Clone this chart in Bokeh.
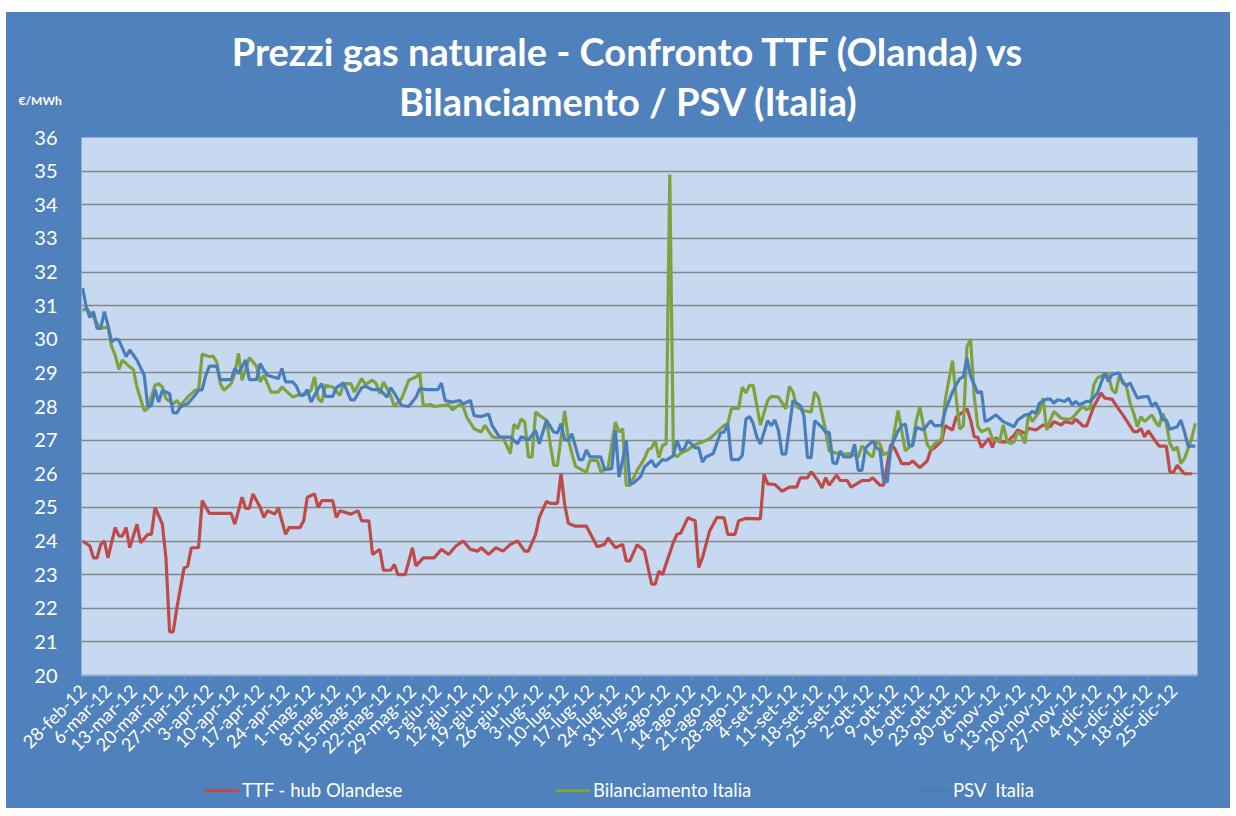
from math import pi
from bokeh.plotting import figure
from bokeh.models import Legend, LegendItem, FixedTicker, Range1d, Label, Spacer, ColumnDataSource
from bokeh.layouts import column, row
from bokeh.embed import file_html
from bokeh.resources import INLINE

# x = days since 28-feb-12
tick_days = list(range(0, 302, 7))
tick_labels = ["28-feb-12", "6-mar-12", "13-mar-12", "20-mar-12", "27-mar-12", "3-apr-12",
               "10-apr-12", "17-apr-12", "24-apr-12", "1-mag-12", "8-mag-12", "15-mag-12",
               "22-mag-12", "29-mag-12", "5-giu-12", "12-giu-12", "19-giu-12", "26-giu-12",
               "3-lug-12", "10-lug-12", "17-lug-12", "24-lug-12", "31-lug-12", "7-ago-12",
               "14-ago-12", "21-ago-12", "28-ago-12", "4-set-12", "11-set-12", "18-set-12",
               "25-set-12", "2-ott-12", "9-ott-12", "16-ott-12", "23-ott-12", "30-ott-12",
               "6-nov-12", "13-nov-12", "20-nov-12", "27-nov-12", "4-dic-12", "11-dic-12",
               "18-dic-12", "25-dic-12"]

ttf_days = [0, 2, 3, 4, 5, 6, 7, 9, 10, 11, 12, 13, 15, 16, 18, 19, 20, 22, 23, 24, 25, 26, 28, 29,
            30, 32, 33, 35, 41, 42, 44, 45, 46, 47, 49, 50, 51, 53, 54, 56, 57, 60, 61, 62, 64, 65,
            66, 69, 70, 71, 74, 76, 77, 79, 80, 82, 83, 85, 86, 87, 89, 91, 92, 94, 97, 99, 101,
            103, 105, 107, 109, 110, 112, 114, 116, 118, 120, 122, 123, 125, 126, 128, 129, 131,
            132, 133, 134, 136, 139, 142, 144, 145, 147, 149, 150, 151, 153, 155, 157, 158, 159,
            160, 163, 164, 165, 167, 169, 170, 171, 173, 175, 177, 178, 180, 181, 183, 187, 188,
            189, 191, 193, 195, 197, 198, 200, 201, 203, 204, 205, 206, 208, 209, 211, 212, 214,
            215, 217, 218, 220, 221, 223, 224, 226, 228, 229, 231, 233, 234, 235, 237, 238, 240,
            241, 244, 245, 246, 247, 248, 250, 251, 252, 253, 255, 257, 258, 260, 261, 263, 265,
            267, 268, 270, 271, 273, 274, 276, 277, 279, 281, 282, 284, 286, 287, 290, 291, 292,
            293, 294, 297, 299, 300, 301, 302, 304, 306]
ttf_vals = [24.0, 23.85, 23.5, 23.5, 23.9, 24.0, 23.5, 24.4, 24.15, 24.15, 24.4, 23.8, 24.5, 23.95,
            24.2, 24.2, 25.0, 24.5, 23.5, 21.3, 21.3, 22.0, 23.2, 23.25, 23.8, 23.8, 25.2, 24.82,
            24.82, 24.5, 25.3, 24.97, 24.97, 25.4, 25.0, 24.7, 24.9, 24.8, 24.98, 24.2, 24.4, 24.4,
            24.6, 25.3, 25.4, 25.0, 25.2, 25.2, 24.7, 24.9, 24.8, 24.9, 24.6, 24.6, 23.6, 23.75,
            23.13, 23.13, 23.3, 23.0, 23.0, 23.8, 23.26, 23.5, 23.5, 23.75, 23.6, 23.85, 24.0,
            23.75, 23.7, 23.8, 23.6, 23.8, 23.7, 23.9, 24.0, 23.7, 23.7, 24.2, 24.7, 25.18, 25.12,
            25.12, 26.0, 25.1, 24.53, 24.44, 24.44, 23.83, 23.9, 24.09, 23.8, 23.9, 23.41, 23.41,
            23.89, 23.71, 22.72, 22.72, 23.1, 23.0, 23.96, 24.2, 24.23, 24.69, 24.6, 23.21, 23.5,
            24.3, 24.7, 24.69, 24.2, 24.2, 24.6, 24.67, 24.66, 25.98, 25.7, 25.68, 25.48, 25.6,
            25.6, 25.88, 25.88, 26.06, 25.78, 25.58, 25.88, 25.66, 25.96, 25.8, 25.8, 25.6, 25.73,
            25.8, 25.8, 25.88, 25.66, 25.66, 26.88, 26.76, 26.3, 26.3, 26.38, 26.18, 26.38, 26.7,
            26.76, 26.98, 27.43, 27.3, 27.68, 27.93, 27.6, 27.1, 27.08, 26.78, 27.05, 26.78, 27.08,
            26.95, 26.95, 27.15, 27.3, 27.2, 27.35, 27.3, 27.45, 27.4, 27.55, 27.45, 27.55, 27.5,
            27.62, 27.42, 27.42, 28.0, 28.4, 28.25, 28.22, 27.9, 27.75, 27.25, 27.25, 27.35, 27.1,
            27.28, 26.82, 26.82, 26.05, 26.05, 26.25, 26.0, 26.0]

bil_days = [0, 1, 3, 4, 5, 7, 8, 9, 10, 11, 13, 14, 15, 17, 18, 20, 21, 22, 23, 25, 26, 27, 29, 31,
            32, 33, 35, 36, 37, 38, 39, 41, 42, 43, 44, 46, 48, 49, 50, 52, 54, 55, 56, 58, 60, 62,
            63, 64, 65, 66, 67, 69, 71, 72, 74, 75, 77, 78, 80, 81, 82, 83, 85, 86, 88, 90, 92,
            93, 94, 96, 97, 101, 102, 104, 105, 106, 108, 110, 111, 113, 114, 116, 117, 118, 119,
            120, 121, 122, 123, 124, 125, 126, 128, 129, 130, 131, 133, 134, 135, 136, 138, 139,
            140, 142, 143, 145, 147, 148, 149, 150, 151, 153, 155, 156, 157, 158, 159, 160, 161,
            162, 163, 164, 165, 167, 169, 171, 173, 175, 177, 178, 179, 181, 182, 183, 184, 185,
            187, 189, 190, 192, 194, 195, 196, 197, 199, 201, 202, 203, 205, 206, 209, 212, 214,
            215, 217, 218, 219, 220, 221, 223, 225, 226, 227, 229, 230, 231, 233, 234, 235, 237,
            238, 240, 241, 242, 243, 244, 245, 246, 247, 248, 249, 250, 251, 252, 253, 254, 255,
            256, 257, 258, 259, 260, 261, 262, 264, 265, 266, 267, 268, 270, 272, 273, 275, 276,
            277, 278, 279, 280, 281, 282, 283, 284, 285, 286, 288, 289, 290, 291, 292, 293, 295,
            296, 297, 298, 299, 300, 301, 302, 303, 304, 305, 306, 307]
bil_vals = [30.85, 30.92, 30.67, 30.47, 30.32, 30.37, 29.78, 29.53, 29.1, 29.38, 29.18, 29.1, 28.58,
            27.87, 27.94, 28.63, 28.68, 28.58, 28.23, 28.08, 28.18, 28.03, 28.28, 28.48, 28.5,
            29.56, 29.48, 29.5, 29.33, 28.68, 28.48, 28.68, 28.98, 29.58, 28.78, 29.46, 29.2, 28.73,
            28.93, 28.43, 28.43, 28.58, 28.48, 28.28, 28.36, 28.38, 28.48, 28.88, 28.23, 28.13,
            28.63, 28.58, 28.33, 28.68, 28.68, 28.43, 28.83, 28.66, 28.78, 28.68, 28.38, 28.73,
            28.33, 28.0, 28.23, 28.78, 28.88, 28.98, 28.03, 28.06, 28.0, 28.06, 27.9, 28.06, 28.0,
            27.68, 27.34, 27.24, 27.44, 27.11, 27.07, 27.07, 26.84, 26.6, 27.47, 27.34, 27.63,
            27.54, 26.5, 26.5, 27.84, 27.74, 27.59, 26.89, 26.25, 26.25, 27.87, 27.04, 26.6, 26.22,
            26.1, 26.05, 26.4, 26.4, 26.05, 26.2, 27.54, 27.24, 27.34, 25.65, 25.65, 26.1, 26.45,
            26.71, 26.77, 26.99, 26.48, 26.84, 26.89, 34.9, 26.6, 26.5, 26.61, 26.71, 26.87, 26.94,
            27.04, 27.24, 27.44, 27.49, 27.94, 27.94, 28.58, 28.4, 28.63, 28.63, 27.45, 28.18,
            28.3, 28.28, 27.93, 28.6, 28.43, 28.0, 27.88, 27.83, 28.43, 28.28, 27.28, 26.68, 26.58,
            26.6, 26.5, 26.83, 26.58, 26.5, 26.98, 26.88, 26.56, 26.68, 27.88, 27.28, 26.68, 26.88,
            27.58, 27.98, 26.88, 26.73, 26.88, 27.03, 28.2, 29.36, 28.28, 27.33, 27.43, 29.78,
            30.0, 28.3, 27.4, 27.25, 27.3, 27.35, 27.05, 27.0, 26.95, 27.45, 27.0, 26.9, 26.95,
            27.25, 27.15, 26.9, 27.8, 27.55, 27.85, 28.25, 27.3, 27.6, 27.85, 27.65, 27.62, 27.65,
            27.9, 28.0, 27.9, 27.95, 28.65, 28.85, 28.9, 28.95, 28.95, 28.5, 28.4, 28.9, 28.6,
            28.1, 27.8, 27.4, 27.7, 27.55, 27.75, 27.55, 27.4, 27.8, 27.5, 26.9, 26.7, 26.8, 26.3,
            26.45, 26.75, 27.05, 27.5]

psv_days = [0, 1, 2, 3, 4, 5, 6, 7, 8, 9, 10, 12, 13, 14, 15, 17, 18, 19, 20, 21, 22, 23, 24, 25,
            26, 27, 29, 31, 32, 33, 34, 35, 37, 38, 41, 42, 43, 45, 46, 48, 49, 50, 51, 54, 55, 56,
            58, 59, 60, 61, 62, 63, 65, 66, 67, 69, 70, 72, 74, 75, 77, 78, 80, 82, 84, 85, 86,
            88, 90, 92, 93, 95, 98, 99, 100, 102, 104, 105, 107, 108, 110, 112, 113, 115, 117,
            118, 120, 121, 123, 125, 126, 128, 130, 131, 132, 133, 134, 135, 137, 138, 139, 140,
            143, 144, 146, 147, 148, 149, 150, 151, 152, 154, 155, 157, 158, 160, 161, 163, 164,
            165, 166, 167, 169, 170, 171, 172, 174, 176, 177, 178, 179, 181, 182, 183, 184, 185,
            186, 187, 189, 190, 191, 192, 193, 194, 196, 198, 199, 200, 201, 202, 204, 205, 206,
            207, 208, 209, 210, 212, 213, 214, 215, 216, 218, 219, 220, 221, 222, 223, 225, 226,
            227, 228, 229, 230, 232, 234, 235, 237, 238, 240, 242, 243, 244, 245, 247, 248, 249,
            250, 252, 253, 254, 256, 257, 258, 260, 261, 262, 263, 264, 266, 267, 268, 269, 271,
            272, 273, 274, 275, 277, 278, 280, 282, 283, 284, 286, 287, 288, 289, 291, 292, 294,
            295, 296, 297, 298, 299, 300, 302, 303, 304, 305, 306, 307]
psv_vals = [31.52, 30.97, 30.65, 30.82, 30.32, 30.32, 30.82, 30.42, 29.93, 30.0, 29.98, 29.48, 29.68,
            29.53, 29.38, 28.93, 27.99, 28.03, 28.5, 28.13, 28.48, 28.43, 28.38, 27.81, 27.81,
            27.99, 28.08, 28.33, 28.48, 28.5, 28.93, 29.2, 29.2, 28.8, 28.8, 29.13, 28.98, 29.38,
            28.8, 28.8, 29.28, 29.08, 28.93, 28.83, 29.13, 28.73, 28.73, 28.6, 28.34, 28.33, 28.5,
            28.13, 28.53, 28.68, 28.3, 28.3, 28.56, 28.7, 28.2, 28.2, 28.56, 28.6, 28.5, 28.5,
            28.28, 28.56, 28.4, 28.03, 28.0, 28.28, 28.53, 28.5, 28.5, 28.7, 28.18, 28.13, 28.18,
            28.08, 28.18, 27.73, 27.7, 27.78, 27.43, 27.1, 27.09, 27.09, 26.89, 27.1, 27.01, 27.29,
            26.89, 27.59, 27.24, 27.21, 27.49, 27.01, 26.99, 27.19, 26.42, 26.42, 26.71, 26.5,
            26.5, 26.12, 26.15, 27.29, 25.9, 26.4, 26.99, 25.7, 25.72, 25.92, 26.2, 26.4, 26.2,
            26.42, 26.4, 26.54, 26.99, 26.69, 26.74, 26.99, 26.77, 26.77, 26.35, 26.5, 26.6, 27.21,
            27.24, 27.49, 26.42, 26.42, 26.54, 27.62, 27.7, 27.5, 27.1, 26.88, 27.58, 27.43, 27.6,
            27.28, 26.58, 26.58, 28.18, 28.03, 27.73, 26.48, 26.48, 27.58, 27.38, 27.23, 27.23,
            26.33, 26.3, 26.68, 26.5, 26.5, 26.88, 26.1, 26.1, 26.76, 26.98, 26.78, 26.7, 25.78,
            25.76, 26.78, 27.28, 27.43, 27.48, 26.83, 26.83, 27.38, 27.3, 27.58, 27.43, 27.43,
            27.88, 28.43, 28.83, 28.88, 29.43, 28.9, 28.4, 28.45, 27.55, 27.6, 27.75, 27.65, 27.55,
            27.45, 27.4, 27.6, 27.75, 27.75, 27.85, 27.8, 28.1, 28.22, 28.22, 28.1, 28.2, 28.15,
            28.25, 28.05, 28.15, 28.05, 28.15, 28.15, 28.4, 29.0, 28.75, 28.95, 29.0, 28.7, 28.62,
            28.7, 28.25, 28.28, 28.3, 28.0, 28.12, 27.92, 27.6, 27.6, 27.32, 27.4, 27.6, 27.25,
            26.82, 26.82, 26.82]

series_names = ["TTF - hub Olandese", "Bilanciamento Italia", "PSV  Italia"]
title_lines = ["Prezzi gas naturale - Confronto TTF (Olanda) vs", "Bilanciamento / PSV (Italia)"]
unit_label = "€/MWh"

BG = "#4F81BD"
PLOT_BG = "#C6D9F1"
FONT = "Lato"
COLORS = ["#BE4B48", "#7FA23F", "#4A7EBB"]
W = 1224


def band(height):
    f = figure(width=W, height=height, output_backend="svg", toolbar_location=None,
               x_axis_type=None, y_axis_type=None, x_range=Range1d(0, 1),
               y_range=Range1d(0, 1), min_border=0)
    f.frame_align = False
    f.background_fill_color = BG
    f.border_fill_color = BG
    f.outline_line_color = None
    f.grid.visible = False
    return f


# ---------- title band ----------
pt = band(110)
for txt, yy in zip(title_lines, [72, 22]):
    pt.add_layout(Label(x=622, y=yy, x_units="screen", y_units="screen", text=txt,
                        text_align="center", text_baseline="middle", text_color="white",
                        text_font=FONT, text_font_style="bold", text_font_size="38px"))
pt.add_layout(Label(x=12, y=22, x_units="screen", y_units="screen", text=unit_label,
                    text_align="left", text_baseline="middle", text_color="white",
                    text_font=FONT, text_font_style="bold", text_font_size="12px"))

# ---------- main chart ----------
p = figure(width=W, height=653, output_backend="svg", toolbar_location=None,
           x_range=Range1d(-0.3, 307.6), y_range=Range1d(20, 36),
           min_border_left=75, min_border_right=33, min_border_top=15, min_border_bottom=100)
p.background_fill_color = PLOT_BG
p.border_fill_color = BG
p.outline_line_color = None

p.xgrid.grid_line_color = None
p.ygrid.grid_line_color = "#868686"
p.ygrid.grid_line_width = 1.5
p.yaxis.ticker = FixedTicker(ticks=list(range(20, 37)))
p.yaxis.axis_line_color = None
p.yaxis.major_tick_line_color = None
p.yaxis.minor_tick_line_color = None
p.yaxis.major_label_text_color = "white"
p.yaxis.major_label_text_font = FONT
p.yaxis.major_label_text_font_size = "20px"
p.yaxis.major_label_standoff = 18

p.xaxis.ticker = FixedTicker(ticks=tick_days)
p.xaxis.major_label_overrides = {d: lab for d, lab in zip(tick_days, tick_labels)}
p.xaxis.major_label_orientation = pi / 4
p.xaxis.major_label_text_color = "white"
p.xaxis.major_label_text_font = FONT
p.xaxis.major_label_text_font_size = "18px"
p.xaxis.major_label_standoff = 7
p.xaxis.axis_line_color = "#8EA9CF"
p.xaxis.axis_line_width = 2
p.xaxis.major_tick_line_color = "#6F93C6"
p.xaxis.major_tick_out = 5
p.xaxis.major_tick_in = 0
p.xaxis.minor_tick_line_color = None

all_days = [ttf_days, bil_days, psv_days]
all_vals = [ttf_vals, bil_vals, psv_vals]
for xs, ys, c in zip(all_days, all_vals, COLORS):
    p.line(xs, ys, line_color=c, line_width=3.2)

# ---------- legend band ----------
pl = band(33)
for name, c, xloc, xs, ys in zip(series_names, COLORS, [198, 549, 909], all_days, all_vals):
    # one-point source (out of this band's view) just to give the legend its line style
    r = pl.line(x="x", y="y", source=ColumnDataSource(dict(x=xs[:1], y=ys[:1])),
                line_color=c, line_width=3.2)
    lg = Legend(items=[LegendItem(label=name, renderers=[r])], location=(xloc, 7),
                background_fill_alpha=0, border_line_color=None, padding=0, margin=0,
                glyph_width=35, glyph_height=20, label_standoff=3, label_text_color="white",
                label_text_font=FONT, label_text_font_size="18.5px", label_height=20)
    pl.add_layout(lg, "center")

body = column(pt, p, pl, spacing=0, styles={"background-color": BG})
page = column(Spacer(height=12), row(Spacer(width=6), body))
open("out.html", "w").write(file_html(page, INLINE))
